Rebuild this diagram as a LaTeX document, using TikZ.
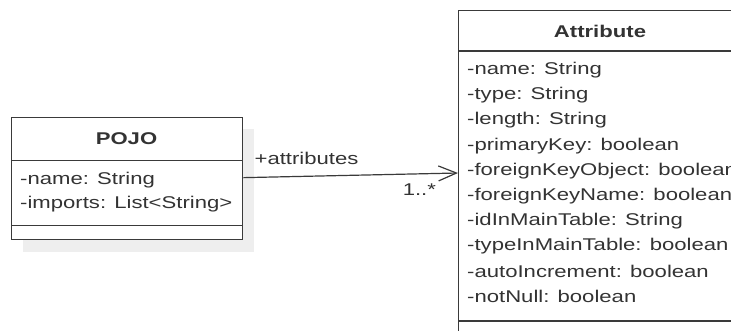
\documentclass[tikz,border=0pt]{standalone}
\usepackage{fontspec}
\setmainfont[FakeStretch=1.3]{Liberation Sans}
\usetikzlibrary{arrows.meta}
\definecolor{umlline}{HTML}{3A3A3A}
\definecolor{umltext}{HTML}{333333}
\definecolor{umlshadow}{HTML}{EEEEEE}
\tikzset{
  umlbox/.style={draw=umlline, line width=1.3pt, fill=white, anchor=north west, inner sep=0pt},
  umlsep/.style={draw=umlline, line width=1.3pt},
  umlfont/.style={text=umltext, font=\fontsize{17}{19}\selectfont},
  attrtext/.style={umlfont, anchor=west, inner sep=0pt},
  titletext/.style={inner sep=0pt, text=umltext, font=\fontsize{17}{19}\selectfont\bfseries},
  assoc/.style={draw=umlline, line width=1.2pt, -{Straight Barb[length=18pt,width=15pt,line width=1.2pt]}}
}
\begin{document}
\begin{tikzpicture}[x=1pt,y=-1pt]
\path[use as bounding box, clip] (0,0) rectangle (731,330);
% POJO shadow
\fill[umlshadow] (23,129) rectangle (254,252);
% POJO class
\node[umlbox, minimum width=231pt, minimum height=122pt] (pojo) at (11,117) {};
\draw[umlsep] (11,160.5) -- (242,160.5);
\draw[umlsep] (11,225.5) -- (242,225.5);
\node[titletext] (pojot) at (126.5,139) {POJO};
\node[attrtext] (p1) at (20,180) {-name: String};
\node[attrtext] (p2) at (20,204) {-imports: List<String>};
% Attribute class
\node[umlbox, minimum width=284pt, minimum height=340pt] (attr) at (458,10) {};
\draw[umlsep] (458,51) -- (745,51);
\draw[umlsep] (458,321) -- (745,321);
\node[titletext] (attrt) at (600,31) {Attribute};
\foreach \t [count=\i from 0] in {-name: String,-type: String,-length: String,-primaryKey: boolean,-foreignKeyObject: boolean,-foreignKeyName: boolean,-idInMainTable: String,-typeInMainTable: boolean,-autoIncrement: boolean,-notNull: boolean}
  \node[attrtext] (a\i) at (467,70+25.2*\i) {\t};
% association
\draw[assoc] ([yshift=1pt]pojo.east) -- ([yshift=-163pt]attr.north west)
  node[pos=0.05, anchor=south west, inner sep=0pt, yshift=12pt, umlfont] (role) {+attributes}
  node[pos=0.9, anchor=north east, inner sep=0pt, yshift=-10pt, umlfont] (mult) {1..*};
\end{tikzpicture}
\end{document}
